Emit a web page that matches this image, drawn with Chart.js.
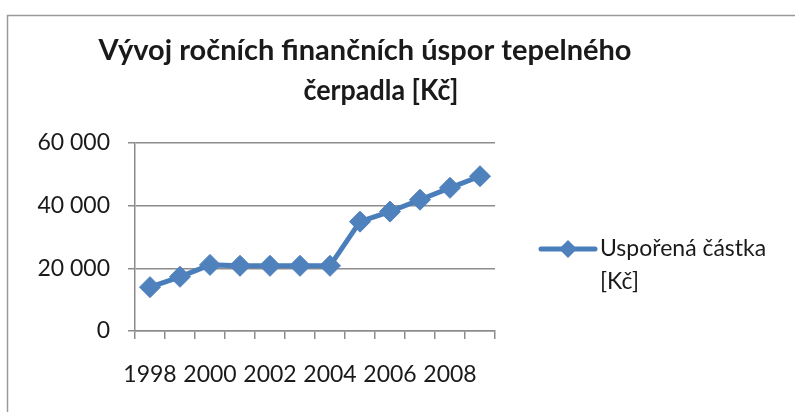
<!DOCTYPE html>
<html>
<head>
<meta charset="utf-8">
<script src="https://cdn.jsdelivr.net/npm/chart.js@4.4.1/dist/chart.umd.min.js"></script>
<style>
  html, body { margin: 0; padding: 0; background: #fff; }
  #wrap { width: 795px; height: 412px; position: relative; }
</style>
</head>
<body>
<div id="wrap"><canvas id="chart" width="795" height="412"></canvas></div>
<script>
// chart data
const years = ['1998', '1999', '2000', '2001', '2002', '2003', '2004', '2005', '2006', '2007', '2008', '2009'];
const savings = [14000, 17300, 21100, 20800, 20800, 20800, 20800, 34900, 38100, 41900, 45700, 49400];
const yTickValues = [0, 20000, 40000, 60000];
const titleLines = ['Vývoj ročních finančních úspor tepelného', 'čerpadla [Kč]'];
const legendLines = ['Uspořená částka', '[Kč]'];

const lineColor = '#4A7EBB';
const gridColor = '#8C8C8C';
const fontFamily = 'Lato, "Open Sans", sans-serif';

function spaced(v) {
  return String(v).replace(/\B(?=(\d{3})+(?!\d))/g, ' ');
}

// frame, title and legend drawn straight on the canvas
const decor = {
  id: 'decor',
  beforeDraw(chart) {
    const ctx = chart.ctx;
    ctx.save();
    ctx.fillStyle = '#fff';
    ctx.fillRect(0, 0, chart.width, chart.height);
    ctx.strokeStyle = '#9a9a9a';
    ctx.lineWidth = 1.5;
    ctx.strokeRect(7.5, 15.5, 900, 600);
    ctx.restore();
  },
  afterDraw(chart) {
    const ctx = chart.ctx;
    ctx.save();
    ctx.fillStyle = '#1a1a1a';
    ctx.textBaseline = 'alphabetic';
    ctx.textAlign = 'center';
    ctx.font = 'bold 29px ' + fontFamily;
    ctx.fillText(titleLines[0], 365, 60, 536);
    ctx.fillText(titleLines[1], 381, 100, 155);

    // legend
    const ly = 249;
    ctx.strokeStyle = lineColor;
    ctx.lineWidth = 5;
    ctx.lineCap = 'round';
    ctx.beginPath();
    ctx.moveTo(541, ly);
    ctx.lineTo(595, ly);
    ctx.stroke();
    ctx.fillStyle = '#4F81BD';
    ctx.beginPath();
    ctx.moveTo(568, ly - 9);
    ctx.lineTo(577, ly);
    ctx.lineTo(568, ly + 9);
    ctx.lineTo(559, ly);
    ctx.closePath();
    ctx.fill();
    ctx.fillStyle = '#1a1a1a';
    ctx.textAlign = 'left';
    ctx.textBaseline = 'middle';
    ctx.font = '23px ' + fontFamily;
    ctx.fillText(legendLines[0], 600, ly);
    ctx.fillText(legendLines[1], 600, ly + 33);
    ctx.restore();
  }
};

const ctx = document.getElementById('chart').getContext('2d');
new Chart(ctx, {
  type: 'line',
  data: {
    labels: years,
    datasets: [{
      label: legendLines.join(' '),
      data: savings,
      borderColor: lineColor,
      backgroundColor: '#4F81BD',
      borderWidth: 5,
      pointStyle: 'rectRot',
      pointRadius: 10.5,
      pointHoverRadius: 10.5,
      pointBackgroundColor: '#4F81BD',
      pointBorderColor: '#4F81BD',
      pointBorderWidth: 1,
      tension: 0
    }]
  },
  options: {
    responsive: false,
    animation: false,
    devicePixelRatio: 1,
    layout: { padding: { left: 0, top: 143, right: 300, bottom: 0 } },
    plugins: {
      legend: { display: false },
      title: { display: false },
      tooltip: { enabled: false }
    },
    scales: {
      x: {
        type: 'category',
        offset: true,
        border: { display: true, color: gridColor, width: 1.5 },
        grid: {
          display: true,
          offset: true,
          drawOnChartArea: false,
          drawTicks: true,
          tickLength: 8,
          color: gridColor,
          lineWidth: 1.5
        },
        ticks: {
          autoSkip: false,
          maxRotation: 0,
          minRotation: 0,
          padding: 22,
          color: '#1a1a1a',
          font: { family: fontFamily, size: 23 },
          callback: function (value, index) {
            return index % 2 === 0 ? years[index] : '';
          }
        },
        afterFit(scale) { scale.height = 81; }
      },
      y: {
        min: 0,
        max: 60000,
        border: { display: true, color: gridColor, width: 1.5 },
        grid: {
          color: gridColor,
          lineWidth: 1.5,
          tickLength: 7
        },
        afterBuildTicks(scale) {
          scale.ticks = yTickValues.map(v => ({ value: v }));
        },
        ticks: {
          padding: 18,
          color: '#1a1a1a',
          font: { family: fontFamily, size: 23 },
          callback: v => spaced(v)
        },
        afterFit(scale) { scale.width = 135; }
      }
    }
  },
  plugins: [decor]
});
</script>
</body>
</html>
